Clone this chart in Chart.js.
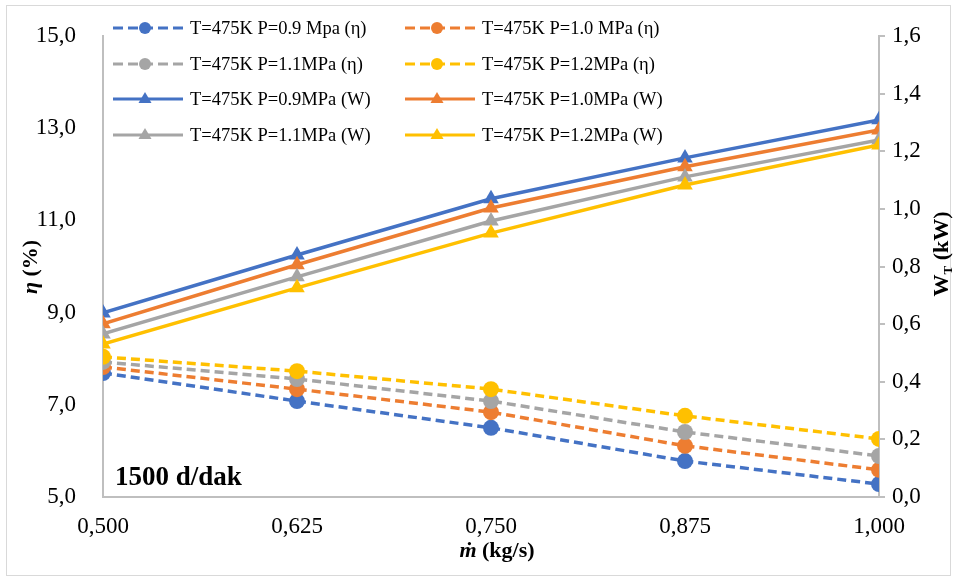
<!DOCTYPE html>
<html>
<head>
<meta charset="utf-8">
<title>eta / W chart</title>
<script src="https://cdn.jsdelivr.net/npm/chart.js@4.4.0/dist/chart.umd.min.js"></script>
<style>
  html, body { margin: 0; padding: 0; background: #fff; }
  #wrap { width: 956px; height: 579px; }
</style>
</head>
<body>
<div id="wrap"><canvas id="myChart" width="956" height="579"></canvas></div>
<script>
// x values (kg/s)
const massFlow = [0.500, 0.625, 0.750, 0.875, 1.000];

// efficiency (%) - left axis
const eta09 = [7.69, 7.08, 6.50, 5.78, 5.28];
const eta10 = [7.82, 7.34, 6.84, 6.11, 5.59];
const eta11 = [7.93, 7.56, 7.08, 6.41, 5.89];
const eta12 = [8.04, 7.73, 7.34, 6.76, 6.26];

// power (kW) - right axis
const w09 = [0.639, 0.840, 1.035, 1.177, 1.309];
const w10 = [0.601, 0.806, 1.003, 1.146, 1.274];
const w11 = [0.566, 0.764, 0.958, 1.111, 1.239];
const w12 = [0.531, 0.726, 0.916, 1.083, 1.222];

const seriesLabels = [
  "T=475K P=0.9 Mpa (η)", "T=475K P=1.0 MPa (η)",
  "T=475K P=1.1MPa (η)", "T=475K P=1.2MPa (η)",
  "T=475K P=0.9MPa (W)", "T=475K P=1.0MPa (W)",
  "T=475K P=1.1MPa (W)", "T=475K P=1.2MPa (W)"
];
const colors = ["#4472C4", "#ED7D31", "#A5A5A5", "#FFC000"];

const FONT = "'Liberation Serif', 'Times New Roman', serif";
const AXIS_COLOR = "#BFBFBF";

function toPoints(ys) {
  return massFlow.map((x, i) => ({ x: x, y: ys[i] }));
}

function etaSet(i, ys) {
  return {
    label: seriesLabels[i],
    data: toPoints(ys),
    yAxisID: 'y',
    borderColor: colors[i],
    backgroundColor: colors[i],
    borderWidth: 3.5,
    borderDash: [9, 5],
    pointStyle: 'circle',
    pointRadius: 8,
    pointHoverRadius: 8,
    pointBorderWidth: 0,
    order: 20 - i
  };
}

function wSet(i, ys) {
  return {
    label: seriesLabels[i + 4],
    data: toPoints(ys),
    yAxisID: 'y1',
    borderColor: colors[i],
    backgroundColor: colors[i],
    borderWidth: 3.5,
    pointStyle: 'triangle',
    pointRadius: 9,
    pointHoverRadius: 9,
    pointBorderWidth: 0,
    order: 10 - i
  };
}

function comma(v, d) {
  return v.toFixed(d).replace('.', ',');
}

// draws text pieces one after another, centred on x
function drawRuns(ctx, runs, x, y) {
  let total = 0;
  runs.forEach(r => { ctx.font = r.font; total += ctx.measureText(r.text).width; });
  let cx = x - total / 2;
  runs.forEach(r => {
    ctx.font = r.font;
    ctx.fillText(r.text, cx, y + (r.dy || 0));
    cx += ctx.measureText(r.text).width;
  });
}

const decorPlugin = {
  id: 'decor',
  beforeDraw(chart) {
    const ctx = chart.ctx;
    ctx.save();
    ctx.fillStyle = '#fff';
    ctx.fillRect(0, 0, chart.width, chart.height);
    ctx.strokeStyle = '#D9D9D9';
    ctx.lineWidth = 1;
    ctx.strokeRect(6.5, 5.5, 944, 570);
    ctx.restore();
  },
  afterDraw(chart) {
    const ctx = chart.ctx;
    ctx.save();
    ctx.fillStyle = '#000';
    ctx.textBaseline = 'alphabetic';

    // legend, 2 columns
    const colX = [113, 405];
    const rowY = [28, 64, 99, 135];
    chart.data.datasets.forEach((ds, i) => {
      const x0 = colX[i % 2];
      const y = rowY[Math.floor(i / 2)];
      ctx.strokeStyle = ds.borderColor;
      ctx.lineWidth = 3;
      ctx.setLineDash(ds.borderDash ? [10, 5] : []);
      ctx.beginPath();
      ctx.moveTo(x0, y);
      ctx.lineTo(x0 + 70, y);
      ctx.stroke();
      ctx.setLineDash([]);
      ctx.fillStyle = ds.backgroundColor;
      const mx = x0 + 32;
      ctx.beginPath();
      if (ds.pointStyle === 'circle') {
        ctx.arc(mx, y, 6, 0, Math.PI * 2);
      } else {
        ctx.moveTo(mx, y - 7);
        ctx.lineTo(mx + 6.5, y + 4);
        ctx.lineTo(mx - 6.5, y + 4);
        ctx.closePath();
      }
      ctx.fill();
      ctx.fillStyle = '#000';
      ctx.font = '18.5px ' + FONT;
      ctx.textAlign = 'left';
      ctx.fillText(ds.label, x0 + 77, y + 6);
    });

    ctx.textAlign = 'left';
    ctx.font = 'bold 27px ' + FONT;
    ctx.fillText('1500 d/dak', 115, 485);

    // axis titles
    ctx.save();
    ctx.translate(30, 267);
    ctx.rotate(-Math.PI / 2);
    drawRuns(ctx, [
      { text: 'η', font: 'italic bold 22px ' + FONT },
      { text: ' (%)', font: 'bold 22px ' + FONT }
    ], 0, 7);
    ctx.restore();

    ctx.save();
    ctx.translate(941, 254);
    ctx.rotate(-Math.PI / 2);
    drawRuns(ctx, [
      { text: 'W', font: 'bold 22px ' + FONT },
      { text: 'T', font: 'bold 13px ' + FONT, dy: 4 },
      { text: ' (kW)', font: 'bold 22px ' + FONT }
    ], 0, 7);
    ctx.restore();

    drawRuns(ctx, [
      { text: 'ṁ', font: 'italic bold 22px ' + FONT },
      { text: ' (kg/s)', font: 'bold 22px ' + FONT }
    ], 497, 557);

    ctx.restore();
  }
};

const config = {
  type: 'line',
  data: {
    datasets: [
      etaSet(0, eta09), etaSet(1, eta10), etaSet(2, eta11), etaSet(3, eta12),
      wSet(0, w09), wSet(1, w10), wSet(2, w11), wSet(3, w12)
    ]
  },
  options: {
    responsive: false,
    animation: false,
    events: [],
    layout: { padding: { top: 36, left: 0, right: 0, bottom: 0 } },
    plugins: {
      legend: { display: false },
      tooltip: { enabled: false }
    },
    scales: {
      x: {
        type: 'linear',
        min: 0.5,
        max: 1.0,
        afterBuildTicks: (s) => { s.ticks = massFlow.map(v => ({ value: v })); },
        afterFit: (s) => { s.height = 82; },
        grid: { display: false },
        border: { display: true, color: AXIS_COLOR, width: 2 },
        ticks: {
          padding: 8,
          color: '#000',
          font: { family: FONT, size: 23 },
          maxRotation: 0,
          callback: (v) => comma(v, 3)
        }
      },
      y: {
        position: 'left',
        min: 5,
        max: 15,
        afterFit: (s) => { s.width = 103; },
        grid: { display: false },
        border: { display: true, color: AXIS_COLOR, width: 2 },
        ticks: {
          stepSize: 2,
          padding: 19,
          color: '#000',
          font: { family: FONT, size: 23 },
          callback: (v) => comma(v, 1)
        }
      },
      y1: {
        position: 'right',
        min: 0,
        max: 1.6,
        afterFit: (s) => { s.width = 77; },
        grid: { display: true, drawOnChartArea: false, drawTicks: true, tickLength: 6, color: AXIS_COLOR, lineWidth: 2 },
        border: { display: true, color: AXIS_COLOR, width: 2 },
        ticks: {
          stepSize: 0.2,
          padding: 7,
          color: '#000',
          font: { family: FONT, size: 23 },
          callback: (v) => comma(v, 1)
        }
      }
    }
  },
  plugins: [decorPlugin]
};

window.addEventListener('load', () => {
  new Chart('myChart', config);
});
</script>
</body>
</html>
